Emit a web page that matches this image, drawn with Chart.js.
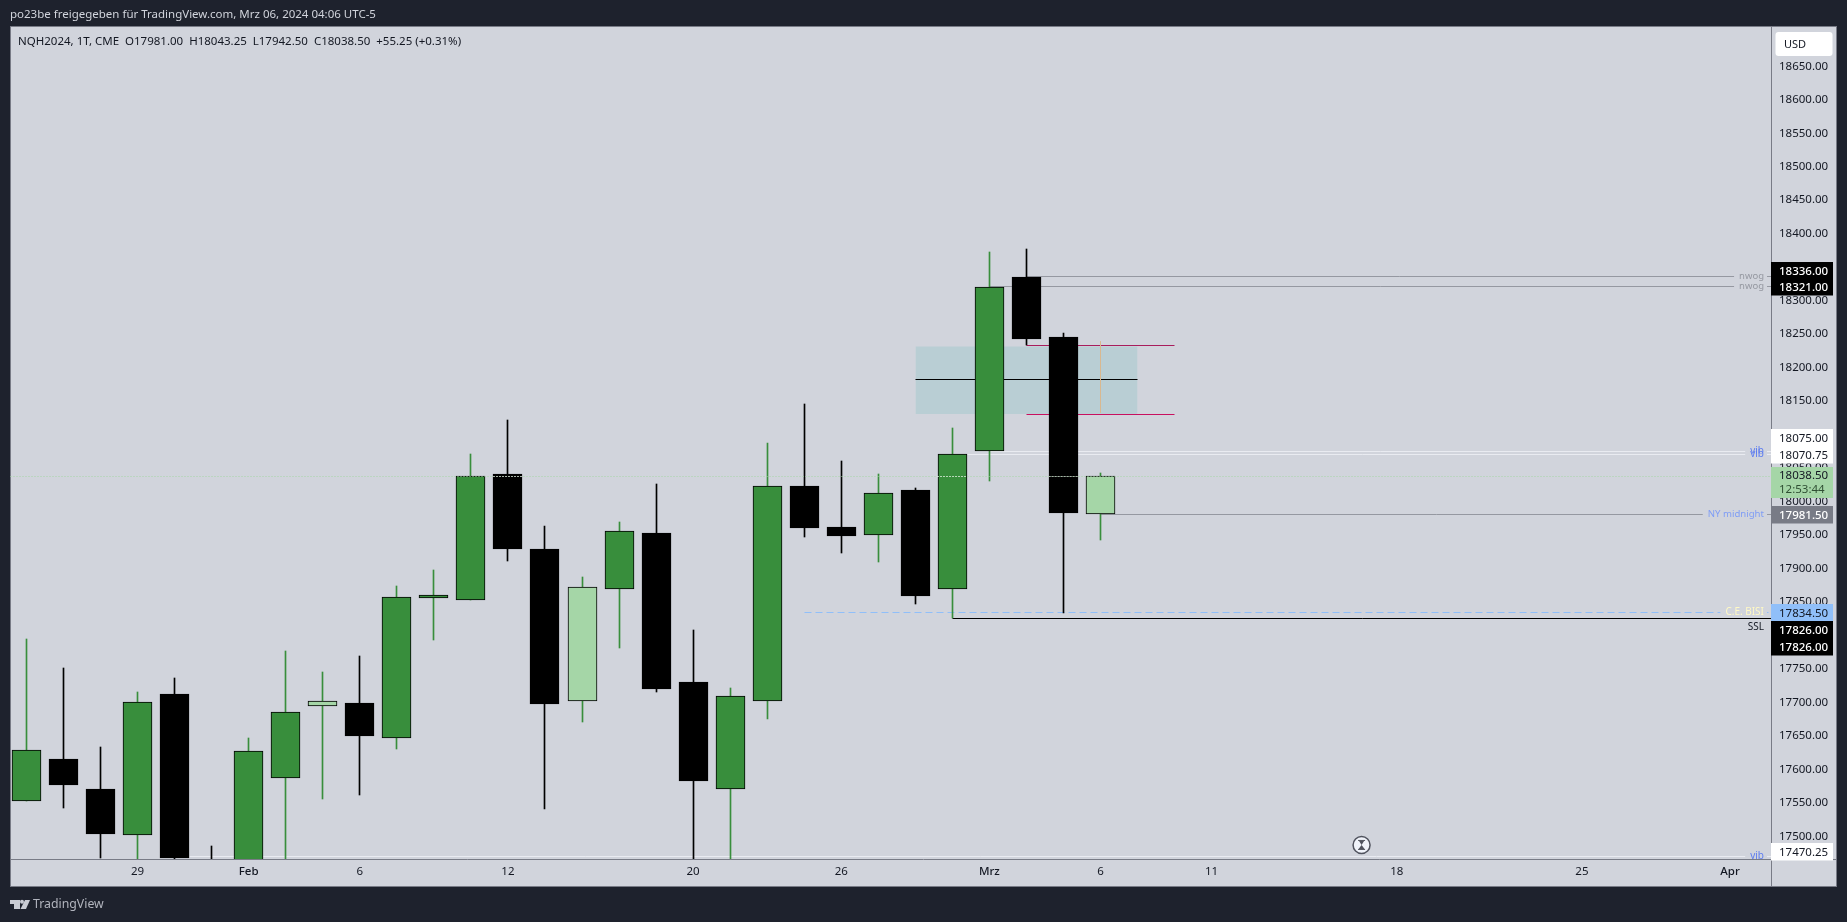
<!DOCTYPE html>
<html><head><meta charset="utf-8">
<style>html,body{margin:0;padding:0;background:#1e222d;overflow:hidden}canvas{display:block}</style>
<script src="https://cdn.jsdelivr.net/npm/chart.js@4/dist/chart.umd.js"></script>
</head><body><div style="width:1847px;height:922px"><canvas id="c" width="1847" height="922"></canvas></div>
<script>
// Candles, one entry per session, Jan 24 .. Mar 6 (top/bottom = body edges)
const highs   =[17794,17752,17633,17716,17736,17485,17646,17776,17746,17769,17874,17897,18071,18122,17963,17887,17969,18026,17808,17722,18087,18146,18060,18041,18020,18110,18373,18377,18252,18043.25];
const bodyTop =[17629,17615,17571,17700,17712,17450,17628,17686,17702.5,17698.5,17857,17860,18038,18041,17929,17873,17956,17953,17730,17710,18022.5,18023,17962,18012.5,18017,18071,18321,18336,18246,18038.5];
const bodyBot =[17552,17577,17503,17502,17468,17300,17400,17587,17694,17649,17646,17856,17853,17929,17698,17701.5,17869,17720,17582,17571,17701.5,17960,17948,17950,17858.5,17869,18075,18243,17983,17981];
const lows    =[17552,17542,17467,17440,17466,17290,17360,17440,17555,17561,17630,17793,17853,17911,17541,17670,17781,17715,17440,17440,17675,17947,17923,17909,17846.5,17826,18031,18233,17833.5,17942.5];
const kinds   =['g','k','k','g','k','k','g','g','l','k','g','g','g','k','k','l','g','k','k','g','g','k','k','g','k','g','g','k','k','l'];

// Time axis
const xTickIdx   =[3,6,9,13,18,22,26,29,32,37,42,46];
const xTickLabels=['29','Feb','6','12','20','26','Mrz','6','11','18','25','Apr'];
const monthLabels=['Feb','Mrz','Apr'];
// Price axis
const yTickValues=[17500,17550,17600,17650,17700,17750,17800,17850,17900,17950,18000,18050,18100,18150,18200,18250,18300,18350,18400,18450,18500,18550,18600,18650];
const yMin=17466, yMax=18708.7;
const xMin=-0.44554, xMax=47.1056;

// Drawn levels: [x start index, x end index, price]
const nwogHigh=[27,47.2,18336], nwogLow=[26,47.2,18321];
const vibA=[26,47.2,18075], vibB=[25,47.2,18070.75], vibC=[4.4,47.2,17470.25];
const nyMid=[29,47.2,17981.5], bisi=[21,47.2,17834.5], ssl=[25,47.2,17826];
const lastPrice=[-1,48,18038.5];
const lastOnBodies=[[12.61,13.39,18038.5],[24.61,25.39,18038.5],[27.61,28.39,18038.5]];
const redUp=[27,31,18233], redDn=[27,31,18130];
const midLine=[24,30,18182.5];
const boxRange=[24,30,18232,18130.6];
const orangeV=[29,18240,18134];
const hourglassAt=[36.05,17487];

// Axis price tags: [price, label, pixel offset]
const tags=[
 [18336,'18336.00',-6,'#000','#fff'],[18321,'18321.00',0.7,'#000','#fff'],
 [18075,'18075.00',-13,'#fff','#131722'],[18070.75,'18070.75',1.3,'#fff','#131722'],
 [17981.5,'17981.50',1.2,'#787b86','#fff'],
 [17834.5,'17834.50',0.7,'#90bff9','#131722'],[17826,'17826.00',11.6,'#000','#fff'],[17826,'17826.00',28.6,'#000','#fff'],
 [17470.25,'17470.25',-4.6,'#fff','#131722']
];
const levelLabels=[
 ['nwog',18336,'#9598a1',9.5],['nwog',18321,'#9598a1',9.5],['vib',18075,'#5d7cf0',10],['vib',18070.75,'#5d7cf0',10],
 ['NY midnight',17981.5,'#7f9df5',9.6],['C.E. BISI',17834.5,'#fff9c4',10],['vib',17470.25,'#5d7cf0',10]
];
const headerText='po23be freigegeben für TradingView.com, Mrz 06, 2024 04:06 UTC-5';
const legendText='NQH2024, 1T, CME  O17981.00  H18043.25  L17942.50  C18038.50  +55.25 (+0.31%)';
const countdown='12:53:44', lastLabel='18038.50', currency='USD', brand='TradingView', sslText='SSL';

const GREEN='#388e3c', LIGHT='#a5d6a7', BLACK='#000000';
const FONT='"Noto Sans"';
const wickCol=k=>k==='k'?BLACK:GREEN;
const bodyCol=k=>k==='k'?BLACK:k==='l'?LIGHT:GREEN;
const seg=a=>[{x:a[0],y:a[2]},{x:a[1],y:a[2]}];
const lineDs=(a,color,order,extra)=>Object.assign({type:'line',data:seg(a),borderColor:color,borderWidth:1,pointRadius:0,tension:0,fill:false,order},extra||{});

// Snap what the scales computed to whole device pixels, so 1px marks stay crisp.
const crisp={id:'crisp',afterDatasetsUpdate(ch){
  ch.getSortedVisibleDatasetMetas().forEach(m=>{
    if(m.type==='bar'){m.data.forEach(e=>{e.x=Math.floor(e.x)+.5;e.y=Math.round(e.y);e.base=Math.round(e.base);});}
    else if(m.type==='line'){m.data.forEach(e=>{e.y=Math.floor(e.y+.3)+.5;e.x=Math.floor(e.x)+.5;});}
  });}};

const chrome={id:'chrome',
 beforeDraw(ch){const c=ch.ctx,{chartArea:a}=ch;c.save();
  c.fillStyle='#1e222d';c.fillRect(0,0,1847,922);
  c.fillStyle='#d1d4dc';c.fillRect(10,27,1826,859);
  c.strokeStyle='#787b86';c.lineWidth=1;c.strokeRect(10.5,26.5,1826,860);
  c.beginPath();c.moveTo(a.right+.5,27);c.lineTo(a.right+.5,886);c.moveTo(11,a.bottom+.5);c.lineTo(1836,a.bottom+.5);c.stroke();
  c.restore();},
 afterDraw(ch){const c=ch.ctx,{chartArea:a,scales:{x,y}}=ch;c.save();
  const R=a.right;
  // labels on the price levels
  c.textBaseline='middle';c.textAlign='right';
  levelLabels.forEach(l=>{c.font=l[3]+'px '+FONT;const py=Math.floor(y.getPixelForValue(l[1])+.3)+.5,w=c.measureText(l[0]).width;
    c.fillStyle='#d1d4dc';c.fillRect(R-7-w-5,py-1,w+8,3);
    c.fillStyle=l[2];c.fillText(l[0],R-7,py);});
  c.fillStyle='#131722';c.font='10px '+FONT;c.fillText(sslText,R-7,627);
  // tags
  c.textAlign='left';
  const drawTag=(t)=>{const cy=Math.round(y.getPixelForValue(t[0])+t[2]);
    c.fillStyle=t[3];c.fillRect(R,cy-9,62,17.5);
    c.font=(t[4]==='#fff'?'500 ':'')+'11.5px '+FONT;
    c.fillStyle=t[4];c.fillText(t[1],R+8,cy+.5);};
  tags.forEach(drawTag);
  // live tag
  c.font='11.5px '+FONT;
  c.fillStyle=LIGHT;c.fillRect(R,467,62,31);
  c.fillStyle='#131722';c.fillText(lastLabel,R+8,475.5);
  c.fillStyle='#2f4f33';c.fillText(countdown,R+8,490);
  // currency button
  c.fillStyle='#fff';c.beginPath();c.roundRect(1775.5,32,57,24,3);c.fill();
  c.fillStyle='#131722';c.font='11px '+FONT;c.fillText(currency,1784,44.5);
  // title + legend
  c.font='11.5px '+FONT;c.fillStyle='#d1d4dc';c.fillText(headerText,10,15);
  c.fillStyle='#131722';c.fillText(legendText,18,42);
  // hourglass badge
  const hx=x.getPixelForValue(hourglassAt[0]),hy=y.getPixelForValue(hourglassAt[1]);
  c.fillStyle='#f0f3fa';c.strokeStyle='#50535e';c.lineWidth=1.5;c.beginPath();c.arc(hx,hy,8.5,0,Math.PI*2);c.fill();c.stroke();
  c.strokeStyle='#50535e';c.fillStyle='#50535e';c.lineWidth=1;
  c.beginPath();c.moveTo(hx-3.5,hy-4.5);c.lineTo(hx+3.5,hy-4.5);c.moveTo(hx-3.5,hy+4.5);c.lineTo(hx+3.5,hy+4.5);c.stroke();
  c.beginPath();c.moveTo(hx-2.5,hy-4);c.lineTo(hx+2.5,hy-4);c.lineTo(hx,hy);c.lineTo(hx+3,hy+4);c.lineTo(hx-3,hy+4);c.lineTo(hx,hy);c.closePath();c.fill();
  // footer logo + wordmark
  c.fillStyle='#c8cbd3';
  c.fillRect(10,900,10,4);c.fillRect(14,904,6,5);
  c.beginPath();c.arc(22,901.8,2,0,Math.PI*2);c.fill();
  c.beginPath();c.moveTo(25,900);c.lineTo(30,900);c.lineTo(26,909);c.lineTo(20.5,909);c.closePath();c.fill();
  c.font='12.3px '+FONT;c.fillStyle='#b2b5be';c.fillText(brand,33,904.5);
  c.restore();}
};

const idx=highs.map((_,i)=>i);
new Chart(document.getElementById('c'),{
 data:{datasets:[
  // highlighted zone
  {type:'line',data:[{x:boxRange[0],y:boxRange[2]},{x:boxRange[1],y:boxRange[2]}],borderWidth:0,borderColor:'rgba(0,0,0,0)',pointRadius:0,backgroundColor:'#b9ced4',fill:{value:boxRange[3]},order:20},
  lineDs(midLine,'#000',19),
  lineDs(redUp,'#a81d5c',18),lineDs(redDn,'#c8105f',18),
  lineDs(nwogHigh,'#9598a1',17),lineDs(nwogLow,'#9598a1',17),
  lineDs(vibA,'#e9ebf1',17),lineDs(vibB,'#e9ebf1',17),lineDs(vibC,'#e9ebf1',17),
  lineDs(nyMid,'#9598a1',17),
  lineDs(bisi,'#90bff9',17,{borderDash:[7,4]}),
  lineDs(ssl,'#000',17),
  {type:'line',data:[{x:orangeV[0],y:orangeV[1]},{x:orangeV[0],y:orangeV[2]}],borderColor:'#d9b88f',borderWidth:1,pointRadius:0,order:16},
  // wicks then bodies
  {type:'bar',grouped:false,data:idx.map(i=>({x:i,y:[lows[i],highs[i]]})),backgroundColor:kinds.map(wickCol),borderWidth:0,barThickness:1,order:10},
  {type:'bar',grouped:false,data:idx.map(i=>({x:i,y:[bodyBot[i],bodyTop[i]]})),backgroundColor:kinds.map(bodyCol),borderColor:'#000',borderWidth:1,borderSkipped:false,barThickness:29,order:9},
  // last price dotted line over the candles
  lineDs(lastPrice,'#a5d6a7',2,{borderDash:[1,2]}),
  ...lastOnBodies.map(a=>lineDs(a,'#ffffff',1,{borderDash:[1,2]}))
 ]},
 plugins:[crisp,chrome],
 options:{responsive:false,animation:false,events:[],
  layout:{padding:{left:10,right:11,top:27,bottom:36}},
  plugins:{legend:{display:false},tooltip:{enabled:false}},
  scales:{
   x:{type:'linear',offset:false,min:xMin,max:xMax,grid:{display:false,drawTicks:false},border:{display:false},
      afterBuildTicks(s){s.ticks=xTickIdx.map(v=>({value:v}));},
      afterFit(s){s.height=27;},
      ticks:{autoSkip:false,maxRotation:0,padding:6,color:'#131722',
        font:ctx=>({family:FONT,size:11.5,weight:ctx.tick&&monthLabels.includes(xTickLabels[xTickIdx.indexOf(ctx.tick.value)])?'500':'400'}),
        callback:v=>xTickLabels[xTickIdx.indexOf(v)]}},
   y:{type:'linear',position:'right',min:yMin,max:yMax,grid:{display:false,drawTicks:false},border:{display:false},
      afterBuildTicks(s){s.ticks=yTickValues.map(v=>({value:v}));},
      afterFit(s){s.width=65;},
      ticks:{autoSkip:false,padding:8,crossAlign:'near',color:'#131722',font:{family:FONT,size:11.5},callback:v=>v.toFixed(2)}}
  }}
});
</script></body></html>
